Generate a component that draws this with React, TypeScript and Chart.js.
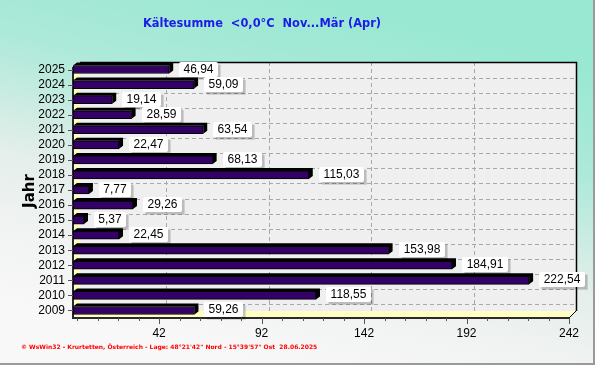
import React, { useEffect, useRef } from "react";
import { Chart, registerables } from "chart.js";

Chart.register(...registerables);

const years = ["2025", "2024", "2023", "2022", "2021", "2020", "2019", "2018", "2017", "2016", "2015", "2014", "2013", "2012", "2011", "2010", "2009"];
const values = [46.94, 59.09, 19.14, 28.59, 63.54, 22.47, 68.13, 115.03, 7.77, 29.26, 5.37, 22.45, 153.98, 184.91, 222.54, 118.55, 59.26];
const xTickValues = [42, 92, 142, 192, 242];
const minorTickValues = [2, 12, 22, 32, 42, 52, 62, 72, 82, 92, 102, 112, 122, 132, 142, 152, 162, 172, 182, 192, 202, 212, 222, 232, 242];
const titleText = "Kältesumme  <0,0°C  Nov...Mär (Apr)";
const axisTitle = "Jahr";
const footerText = "© WsWin32 - Krurtetten, Österreich - Lage: 48°21'42\" Nord - 15°39'57\" Ost  28.06.2025";

const W = 595;
const H = 365;
const D = 7; // 3D depth offset

const fmt = (v: number) => v.toFixed(2).replace(".", ",");

const decorPlugin = {
  id: "decor",
  beforeDraw(chart: any) {
    const ctx = chart.ctx;
    const ca = chart.chartArea;
    ctx.save();
    // background
    const g = ctx.createLinearGradient(340, 0, 250, 365);
    g.addColorStop(0, "#98e8d2");
    g.addColorStop(0.3, "#ade9d9");
    g.addColorStop(0.6, "#e4eeea");
    g.addColorStop(0.8, "#f1f3f2");
    g.addColorStop(1, "#f8f8f8");
    ctx.fillStyle = g;
    ctx.fillRect(0, 0, W, H);
    // outer border
    ctx.strokeStyle = "#9a9a9a";
    ctx.lineWidth = 2;
    ctx.beginPath();
    ctx.moveTo(W - 1, 0);
    ctx.lineTo(W - 1, H - 1);
    ctx.lineTo(0, H - 1);
    ctx.stroke();

    const L = ca.left, R = ca.right, T = ca.top, B = ca.bottom;
    // back wall
    ctx.fillStyle = "#efefef";
    ctx.fillRect(L + D, T, R - L, B - T - D);
    // gridlines
    ctx.strokeStyle = "#a8a8a8";
    ctx.lineWidth = 1;
    ctx.setLineDash([4, 3]);
    const step = (B - T) / years.length;
    for (let i = 0; i < years.length - 1; i++) {
      const y = Math.round(T + step * (i + 1) + 1) + 0.5;
      ctx.beginPath();
      ctx.moveTo(L + D, y);
      ctx.lineTo(R + D, y);
      ctx.stroke();
    }
    const xs = chart.scales.x;
    for (const v of xTickValues.slice(0, -1)) {
      const x = Math.round(xs.getPixelForValue(v) + D) + 0.5;
      ctx.beginPath();
      ctx.moveTo(x, T);
      ctx.lineTo(x, B - D);
      ctx.stroke();
    }
    ctx.setLineDash([]);
    // frame of back wall
    ctx.strokeStyle = "#000";
    ctx.lineWidth = 1.5;
    ctx.beginPath();
    ctx.moveTo(L + D, T + 0.5);
    ctx.lineTo(R + D + 0.5, T + 0.5);
    ctx.lineTo(R + D + 0.5, B - D);
    ctx.stroke();
    // left wall & floor (yellow)
    ctx.fillStyle = "#ffffc4";
    ctx.beginPath();
    ctx.moveTo(L, T + D);
    ctx.lineTo(L + D, T);
    ctx.lineTo(L + D, B - D);
    ctx.lineTo(R + D, B - D);
    ctx.lineTo(R, B);
    ctx.lineTo(L, B);
    ctx.closePath();
    ctx.fill();
    ctx.strokeStyle = "#000";
    ctx.lineWidth = 1;
    ctx.beginPath();
    ctx.moveTo(R, B);
    ctx.lineTo(R + D, B - D);
    ctx.stroke();
    // front axis lines
    ctx.strokeStyle = "#2a2a2a";
    ctx.lineWidth = 2;
    ctx.beginPath();
    ctx.moveTo(L, T + D - 2);
    ctx.lineTo(L, B);
    ctx.lineTo(R, B);
    ctx.stroke();
    // tick marks x
    ctx.lineWidth = 1;
    ctx.strokeStyle = "#555";
    for (const v of minorTickValues) {
      const x = Math.round(xs.getPixelForValue(v)) + 0.5;
      const major = xTickValues.includes(v);
      ctx.beginPath();
      ctx.moveTo(x, B);
      ctx.lineTo(x, B + (major ? 6 : 3));
      ctx.stroke();
    }
    // tick marks y
    const ys = chart.scales.y;
    for (let i = 0; i < years.length; i++) {
      const y = Math.round(ys.getPixelForValue(i)) + 0.5;
      ctx.beginPath();
      ctx.moveTo(L - 5, y);
      ctx.lineTo(L, y);
      ctx.stroke();
    }
    ctx.restore();
  },
  beforeDatasetsDraw(chart: any) {
    const ctx = chart.ctx;
    const meta = chart.getDatasetMeta(0);
    ctx.save();
    ctx.fillStyle = "#000";
    const dx = 4, dy = 3;
    meta.data.forEach((bar: any) => {
      const h = bar.height;
      const x0 = bar.base;
      const x1 = bar.x;
      const yt = bar.y - h / 2;
      const yb = bar.y + h / 2;
      ctx.beginPath();
      ctx.moveTo(x0, yt);
      ctx.lineTo(x0 + dx, yt - dy);
      ctx.lineTo(x1 + dx, yt - dy);
      ctx.lineTo(x1 + dx, yb - dy);
      ctx.lineTo(x1, yb);
      ctx.lineTo(x1, yt);
      ctx.closePath();
      ctx.fill();
    });
    ctx.restore();
  },
  afterDatasetsDraw(chart: any) {
    const ctx = chart.ctx;
    const ca = chart.chartArea;
    const meta = chart.getDatasetMeta(0);
    ctx.save();
    ctx.font = "12px 'Liberation Sans', Arial, sans-serif";
    ctx.textBaseline = "middle";
    ctx.textAlign = "center";
    meta.data.forEach((bar: any, i: number) => {
      const txt = fmt(values[i]);
      const tw = ctx.measureText(txt).width;
      const bw = Math.round(tw + 9);
      const bh = 15;
      const bx = Math.round(bar.x + 10);
      const by = Math.round(bar.y - 8);
      // shadow
      ctx.fillStyle = "rgba(0,0,0,0.12)";
      ctx.fillRect(bx + 3, by + 3, bw, bh);
      ctx.fillStyle = "rgba(0,0,0,0.10)";
      ctx.fillRect(bx + 2, by + 2, bw, bh);
      ctx.fillStyle = "#ffffff";
      ctx.beginPath();
      ctx.roundRect(bx, by, bw, bh, 2);
      ctx.fill();
      ctx.fillStyle = "#000";
      ctx.fillText(txt, bx + bw / 2, by + bh / 2 + 0.5);
    });
    // title
    ctx.font = "bold 11.4px 'DejaVu Sans', sans-serif";
    ctx.fillStyle = "#1c1ce8";
    ctx.textAlign = "center";
    ctx.fillText(titleText, 262, 24);
    // axis title
    ctx.save();
    ctx.translate(30, ca.top + (ca.bottom - ca.top) / 2 + 1);
    ctx.rotate(-Math.PI / 2);
    ctx.font = "bold 15px 'DejaVu Sans', sans-serif";
    ctx.fillStyle = "#000";
    ctx.fillText(axisTitle, 0, 0);
    ctx.restore();
    // footer
    ctx.font = "bold 6px 'DejaVu Sans', sans-serif";
    ctx.fillStyle = "#ff0000";
    ctx.textAlign = "left";
    ctx.fillText(footerText, 21, 347);
    ctx.restore();
  },
};

export default function App() {
  const ref = useRef<HTMLCanvasElement>(null);
  useEffect(() => {
    if (!ref.current) return;
    const chart = new Chart(ref.current, {
      type: "bar",
      data: {
        labels: years,
        datasets: [
          {
            data: values,
            backgroundColor: "#330066",
            borderColor: "#000",
            borderWidth: 1,
            borderSkipped: false,
            barThickness: 8,
          },
        ],
      },
      options: {
        indexAxis: "y",
        responsive: false,
        animation: false,
        devicePixelRatio: 1,
        layout: { padding: { left: 0, top: 62, right: 26, bottom: 0 } },
        plugins: { legend: { display: false }, tooltip: { enabled: false }, title: { display: false } },
        scales: {
          x: {
            type: "linear",
            min: 0,
            max: 242,
            afterBuildTicks: (s: any) => {
              s.ticks = xTickValues.map((v) => ({ value: v }));
            },
            afterFit: (s: any) => {
              s.height = 47;
            },
            grid: { display: false, drawTicks: false },
            border: { display: false },
            ticks: {
              padding: 8,
              color: "#000",
              autoSkip: false,
              maxRotation: 0,
              font: { family: "'Liberation Sans', Arial, sans-serif", size: 12 },
              callback: (v: any) => String(v),
            },
          },
          y: {
            type: "category",
            afterFit: (s: any) => {
              s.width = 73;
            },
            grid: { display: false, drawTicks: false },
            border: { display: false },
            ticks: {
              padding: 8,
              color: "#000",
              autoSkip: false,
              font: { family: "'Liberation Sans', Arial, sans-serif", size: 12 },
            },
          },
        },
      },
      plugins: [decorPlugin],
    } as any);
    return () => chart.destroy();
  }, []);
  return (
    <div style={{ position: "absolute", left: 0, top: 0, width: W, height: H }}>
      <canvas ref={ref} width={W} height={H} style={{ display: "block", width: W, height: H }} />
    </div>
  );
}
